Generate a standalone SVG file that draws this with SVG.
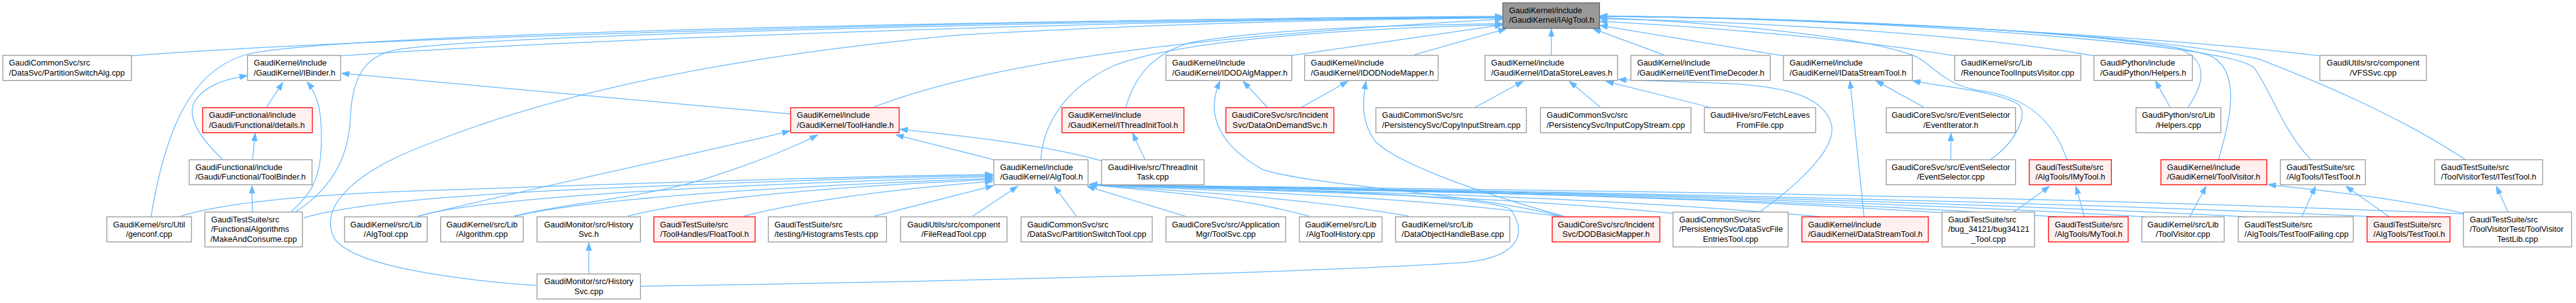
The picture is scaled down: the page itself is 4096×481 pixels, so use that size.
<svg xmlns="http://www.w3.org/2000/svg" width="4096" height="481" viewBox="0 0 4096 481">
<defs>
<marker id="a" markerWidth="15" markerHeight="11" refX="14" refY="5.5" orient="auto" markerUnits="userSpaceOnUse"><path d="M0,0.5 L14,5.5 L0,10.5 z" fill="#63b8ff" stroke="#63b8ff" stroke-width="1"/></marker>
</defs>
<style>
.e path{fill:none;stroke:#63b8ff;stroke-width:1.4;marker-end:url(#a)}
.n rect{fill:#ffffff;stroke:#999999;stroke-width:1.5}
.r rect{fill:#fff0f0;stroke:#ff0000;stroke-width:1.5}
.g rect{fill:#999999;stroke:#666666;stroke-width:1.5}
text{font-family:"Liberation Sans",Arial,sans-serif;font-size:14.4px;fill:#000000}
text.c{text-anchor:middle}
</style>
<rect x="0" y="0" width="4096" height="481" fill="#ffffff"/>
<g transform="scale(0.896)">
<g id="edges" class="e">
<path d="M233,99 C700,62 2000,32 2667,29"/>
<path d="M604,99 C1000,70 2000,36 2667,30"/>
<path d="M268,384 C290,250 330,125 440,96 C620,55 2000,33 2667,30"/>
<path d="M525,375 C610,320 620,250 622,205 C626,120 660,95 710,87 C900,60 2000,35 2667,31"/>
<path d="M1550,190 C1720,125 2000,70 2667,34"/>
<path d="M953,506 C800,495 620,470 592,420 C565,360 640,300 760,255 C1000,160 1300,100 1700,62 C2100,40 2400,34 2667,32"/>
<path d="M1847,283 C1852,210 1900,150 1980,115 C2100,70 2400,50 2667,44"/>
<path d="M1998,190 C2015,130 2050,95 2110,76 C2250,50 2500,44 2667,42"/>
<path d="M2288,99 L2667,44"/>
<path d="M2510,97 L2673,51"/>
<path d="M2753,98 L2753,51"/>
<path d="M2955,98 L2827,51"/>
<path d="M3165,99 L2839,45"/>
<path d="M3469,99 C3300,70 3000,45 2839,38"/>
<path d="M3716,99 C3500,60 3100,38 2839,33"/>
<path d="M4117,99 C3800,60 3200,32 2839,28"/>
<path d="M3883,190 C3910,150 3925,105 3860,84 C3600,45 3100,30 2839,29"/>
<path d="M3937,283 C3955,220 3980,130 3925,100 C3800,55 3200,32 2839,29"/>
<path d="M4101,283 C4050,230 4030,160 4000,120 C3950,75 3300,32 2839,29"/>
<path d="M4375,283 C4250,200 4100,140 4010,105 C3800,55 3200,32 2839,29"/>
<path d="M3668,283 C3640,200 3580,168 3510,160 C3450,150 3430,115 3400,100 C3300,60 3000,38 2839,31"/>
<path d="M3122,376 C3200,320 3260,260 3250,220 C3235,165 3150,150 3040,147 C2950,144 2900,142 2872,141"/>
<path d="M3034,190 L2850,144"/>
<path d="M2618,190 L2703,144"/>
<path d="M2840,190 L2785,144"/>
<path d="M2249,190 L2206,144"/>
<path d="M2310,190 L2392,144"/>
<path d="M2770,383 C2600,340 2330,330 2240,300 C2160,255 2140,200 2165,144"/>
<path d="M2775,383 C2620,340 2480,290 2440,250 C2415,215 2418,180 2424,144"/>
<path d="M2032,283 L2010,236"/>
<path d="M1955,285 C1850,255 1700,240 1597,229"/>
<path d="M1764,283 L1590,239"/>
<path d="M742,383 C1000,320 1250,270 1402,232"/>
<path d="M912,383 C1000,360 1150,350 1260,314 C1350,285 1410,260 1451,239"/>
<path d="M1403,202 L606,130"/>
<path d="M473,190 L502,146"/>
<path d="M396,283 C360,250 330,210 345,180 C365,150 400,140 439,134"/>
<path d="M448,283 L453,236"/>
<path d="M448,376 L447,329"/>
<path d="M517,375 C550,345 568,320 570,260 C572,200 565,170 545,145"/>
<path d="M1045,485 L1045,430"/>
<path d="M321,383 C380,365 500,345 780,337 C1200,322 1500,313 1762,309"/>
<path d="M539,386 C620,362 780,348 1000,337 C1300,323 1550,315 1762,311"/>
<path d="M742,383 C850,352 1200,330 1762,313"/>
<path d="M914,383 C1050,350 1400,330 1762,316"/>
<path d="M1114,383 C1250,348 1500,330 1762,318"/>
<path d="M1320,383 C1440,352 1600,334 1762,321"/>
<path d="M1552,383 L1763,329"/>
<path d="M1726,383 L1806,330"/>
<path d="M1910,383 L1871,330"/>
<path d="M2103,383 L1929,330"/>
<path d="M2323,383 C2186,345 2030,338 1933,327"/>
<path d="M2500,383 C2301,348 2075,338 1933,327"/>
<path d="M2766,383 C2474,345 2141,338 1933,327"/>
<path d="M2969,378 C2606,343 2192,337 1933,327"/>
<path d="M3231,384 C2777,343 2257,337 1933,327"/>
<path d="M3446,377 C2916,342 2311,336 1933,327"/>
<path d="M3650,384 C3049,345 2362,336 1933,327"/>
<path d="M3806,384 C3150,346 2401,336 1933,327"/>
<path d="M3985,384 C3267,347 2446,336 1933,327"/>
<path d="M4214,384 C3416,348 2503,336 1933,327"/>
<path d="M4372,379 C3518,342 2543,335 1933,327"/>
<path d="M1137,507 C1600,500 2300,485 2600,465 C2700,455 2710,410 2680,370 C2600,340 2200,335 1933,327"/>
<path d="M3308,384 L3283,143"/>
<path d="M3414,190 L3329,143"/>
<path d="M3462,283 L3462,236"/>
<path d="M3532,283 C3580,250 3600,200 3582,185 C3540,160 3450,155 3394,143"/>
<path d="M3573,376 L3637,330"/>
<path d="M3699,384 L3684,330"/>
<path d="M3886,384 L3915,330"/>
<path d="M4085,384 L4109,330"/>
<path d="M4240,384 L4163,330"/>
<path d="M4372,378 C4250,350 4100,335 4025,327"/>
<path d="M4451,376 L4430,330"/>
<path d="M3851,190 L3825,143"/>
</g>
<g id="n0" class="g"><rect x="2667" y="5" width="171.6" height="45.2"/><text x="2678" y="23.5">GaudiKernel/include</text><text x="2678" y="40.5">/GaudiKernel/IAlgTool.h</text></g>
<g id="n1" class="n"><rect x="5" y="98.1" width="228.3" height="44.4"/><text x="16" y="116.6">GaudiCommonSvc/src</text><text x="16" y="133.6">/DataSvc/PartitionSwitchAlg.cpp</text></g>
<g id="n2" class="n"><rect x="439.2" y="98.1" width="165.2" height="44.4"/><text x="450.2" y="116.6">GaudiKernel/include</text><text x="450.2" y="133.6">/GaudiKernel/IBinder.h</text></g>
<g id="n3" class="r"><rect x="359.7" y="190.7" width="194.5" height="44.4"/><text x="370.7" y="209.2">GaudiFunctional/include</text><text x="370.7" y="226.2">/Gaudi/Functional/details.h</text></g>
<g id="n4" class="n"><rect x="335.8" y="283" width="217.9" height="44.4"/><text x="346.8" y="301.5">GaudiFunctional/include</text><text x="346.8" y="318.5">/Gaudi/Functional/ToolBinder.h</text></g>
<g id="n5" class="n"><rect x="189.5" y="384.2" width="150.3" height="44.4"/><text class="c" x="264.6" y="402.7">GaudiKernel/src/Util</text><text class="c" x="264.6" y="419.7">/genconf.cpp</text></g>
<g id="n6" class="n"><rect x="363.6" y="375.7" width="173.1" height="61.8"/><text x="374.6" y="394.2">GaudiTestSuite/src</text><text x="374.6" y="411.2">/FunctionalAlgorithms</text><text class="c" x="450.1" y="428.2">/MakeAndConsume.cpp</text></g>
<g id="n7" class="n"><rect x="611.4" y="384.2" width="146.7" height="44.4"/><text class="c" x="684.7" y="402.7">GaudiKernel/src/Lib</text><text class="c" x="684.7" y="419.7">/AlgTool.cpp</text></g>
<g id="n8" class="n"><rect x="781.9" y="384.2" width="146.7" height="44.4"/><text class="c" x="855.2" y="402.7">GaudiKernel/src/Lib</text><text class="c" x="855.2" y="419.7">/Algorithm.cpp</text></g>
<g id="n9" class="n"><rect x="953" y="384.2" width="183.6" height="44.4"/><text class="c" x="1044.8" y="402.7">GaudiMonitor/src/History</text><text class="c" x="1044.8" y="419.7">Svc.h</text></g>
<g id="n10" class="r"><rect x="1160.4" y="384.2" width="179.6" height="44.4"/><text x="1171.4" y="402.7">GaudiTestSuite/src</text><text x="1171.4" y="419.7">/ToolHandles/FloatTool.h</text></g>
<g id="n11" class="n"><rect x="1363.4" y="384.2" width="209.8" height="44.4"/><text x="1374.4" y="402.7">GaudiTestSuite/src</text><text x="1374.4" y="419.7">/testing/HistogramsTests.cpp</text></g>
<g id="n12" class="n"><rect x="953" y="485.4" width="183.6" height="44.4"/><text class="c" x="1044.8" y="503.9">GaudiMonitor/src/History</text><text class="c" x="1044.8" y="520.9">Svc.cpp</text></g>
<g id="n13" class="r"><rect x="1403.2" y="190.7" width="192.4" height="44.4"/><text x="1414.2" y="209.2">GaudiKernel/include</text><text x="1414.2" y="226.2">/GaudiKernel/ToolHandle.h</text></g>
<g id="n14" class="n"><rect x="1598.1" y="384.2" width="189" height="44.4"/><text class="c" x="1692.6" y="402.7">GaudiUtils/src/component</text><text class="c" x="1692.6" y="419.7">/FileReadTool.cpp</text></g>
<g id="n15" class="n"><rect x="1812" y="384.2" width="232.8" height="44.4"/><text x="1823" y="402.7">GaudiCommonSvc/src</text><text x="1823" y="419.7">/DataSvc/PartitionSwitchTool.cpp</text></g>
<g id="n16" class="n"><rect x="2069.2" y="384.2" width="212.4" height="44.4"/><text class="c" x="2175.4" y="402.7">GaudiCoreSvc/src/Application</text><text class="c" x="2175.4" y="419.7">Mgr/ToolSvc.cpp</text></g>
<g id="n17" class="n"><rect x="1763.7" y="283" width="167.2" height="44.4"/><text x="1774.7" y="301.5">GaudiKernel/include</text><text x="1774.7" y="318.5">/GaudiKernel/AlgTool.h</text></g>
<g id="n18" class="n"><rect x="1954.8" y="283" width="182" height="44.4"/><text class="c" x="2045.8" y="301.5">GaudiHive/src/ThreadInit</text><text class="c" x="2045.8" y="318.5">Task.cpp</text></g>
<g id="n19" class="r"><rect x="1884.6" y="190.7" width="216.4" height="44.4"/><text x="1895.6" y="209.2">GaudiKernel/include</text><text x="1895.6" y="226.2">/GaudiKernel/IThreadInitTool.h</text></g>
<g id="n20" class="n"><rect x="2069.2" y="98.1" width="223.3" height="44.4"/><text x="2080.2" y="116.6">GaudiKernel/include</text><text x="2080.2" y="133.6">/GaudiKernel/IDODAlgMapper.h</text></g>
<g id="n21" class="r"><rect x="2175.6" y="190.7" width="191.5" height="44.4"/><text class="c" x="2271.3" y="209.2">GaudiCoreSvc/src/Incident</text><text class="c" x="2271.3" y="226.2">Svc/DataOnDemandSvc.h</text></g>
<g id="n22" class="n"><rect x="2315.3" y="98.1" width="236.8" height="44.4"/><text x="2326.3" y="116.6">GaudiKernel/include</text><text x="2326.3" y="133.6">/GaudiKernel/IDODNodeMapper.h</text></g>
<g id="n23" class="n"><rect x="2635.2" y="98.1" width="235.3" height="44.4"/><text x="2646.2" y="116.6">GaudiKernel/include</text><text x="2646.2" y="133.6">/GaudiKernel/IDataStoreLeaves.h</text></g>
<g id="n24" class="n"><rect x="2894.3" y="98.1" width="247.2" height="44.4"/><text x="2905.3" y="116.6">GaudiKernel/include</text><text x="2905.3" y="133.6">/GaudiKernel/IEventTimeDecoder.h</text></g>
<g id="n25" class="n"><rect x="2441.7" y="190.7" width="267.1" height="44.4"/><text x="2452.7" y="209.2">GaudiCommonSvc/src</text><text x="2452.7" y="226.2">/PersistencySvc/CopyInputStream.cpp</text></g>
<g id="n26" class="n"><rect x="2733.7" y="190.7" width="267.1" height="44.4"/><text x="2744.7" y="209.2">GaudiCommonSvc/src</text><text x="2744.7" y="226.2">/PersistencySvc/InputCopyStream.cpp</text></g>
<g id="n27" class="n"><rect x="3024.7" y="190.7" width="197.4" height="44.4"/><text class="c" x="3123.4" y="209.2">GaudiHive/src/FetchLeaves</text><text class="c" x="3123.4" y="226.2">FromFile.cpp</text></g>
<g id="n28" class="n"><rect x="2305.9" y="384.2" width="146.7" height="44.4"/><text class="c" x="2379.2" y="402.7">GaudiKernel/src/Lib</text><text class="c" x="2379.2" y="419.7">/AlgToolHistory.cpp</text></g>
<g id="n29" class="n"><rect x="2476.5" y="384.2" width="202.9" height="44.4"/><text x="2487.5" y="402.7">GaudiKernel/src/Lib</text><text x="2487.5" y="419.7">/DataObjectHandleBase.cpp</text></g>
<g id="n30" class="r"><rect x="2754.6" y="384.2" width="191" height="44.4"/><text class="c" x="2850.1" y="402.7">GaudiCoreSvc/src/Incident</text><text class="c" x="2850.1" y="419.7">Svc/DODBasicMapper.h</text></g>
<g id="n31" class="n"><rect x="2969" y="375.7" width="204.3" height="61.8"/><text x="2980" y="394.2">GaudiCommonSvc/src</text><text x="2980" y="411.2">/PersistencySvc/DataSvcFile</text><text class="c" x="3071.1" y="428.2">EntriesTool.cpp</text></g>
<g id="n32" class="n"><rect x="3164.9" y="98.1" width="228.8" height="44.4"/><text x="3175.9" y="116.6">GaudiKernel/include</text><text x="3175.9" y="133.6">/GaudiKernel/IDataStreamTool.h</text></g>
<g id="n33" class="n"><rect x="3468.8" y="98.1" width="223.8" height="44.4"/><text x="3479.8" y="116.6">GaudiKernel/src/Lib</text><text x="3479.8" y="133.6">/RenounceToolInputsVisitor.cpp</text></g>
<g id="n34" class="n"><rect x="3716" y="98.1" width="174.7" height="44.4"/><text x="3727" y="116.6">GaudiPython/include</text><text x="3727" y="133.6">/GaudiPython/Helpers.h</text></g>
<g id="n35" class="n"><rect x="3347.4" y="190.7" width="229.3" height="44.4"/><text class="c" x="3462" y="209.2">GaudiCoreSvc/src/EventSelector</text><text class="c" x="3462" y="226.2">/EventIterator.h</text></g>
<g id="n36" class="n"><rect x="3347.4" y="283" width="229.3" height="44.4"/><text class="c" x="3462" y="301.5">GaudiCoreSvc/src/EventSelector</text><text class="c" x="3462" y="318.5">/EventSelector.cpp</text></g>
<g id="n37" class="r"><rect x="3601.1" y="283" width="145.8" height="44.4"/><text x="3612.1" y="301.5">GaudiTestSuite/src</text><text x="3612.1" y="318.5">/AlgTools/IMyTool.h</text></g>
<g id="n38" class="r"><rect x="3197.7" y="384.2" width="224.3" height="44.4"/><text x="3208.7" y="402.7">GaudiKernel/include</text><text x="3208.7" y="419.7">/GaudiKernel/DataStreamTool.h</text></g>
<g id="n39" class="n"><rect x="3446.4" y="375.7" width="164.2" height="61.8"/><text x="3457.4" y="394.2">GaudiTestSuite/src</text><text x="3457.4" y="411.2">/bug_34121/bug34121</text><text class="c" x="3528.5" y="428.2">_Tool.cpp</text></g>
<g id="n40" class="r"><rect x="3635.4" y="384.2" width="141.3" height="44.4"/><text x="3646.4" y="402.7">GaudiTestSuite/src</text><text x="3646.4" y="419.7">/AlgTools/MyTool.h</text></g>
<g id="n41" class="n"><rect x="3790.6" y="190.7" width="150.6" height="44.4"/><text class="c" x="3865.9" y="209.2">GaudiPython/src/Lib</text><text class="c" x="3865.9" y="226.2">/Helpers.cpp</text></g>
<g id="n42" class="n"><rect x="3801" y="384.2" width="146.1" height="44.4"/><text class="c" x="3874" y="402.7">GaudiKernel/src/Lib</text><text class="c" x="3874" y="419.7">/ToolVisitor.cpp</text></g>
<g id="n43" class="n"><rect x="4116.8" y="98.1" width="189.3" height="44.4"/><text class="c" x="4211.4" y="116.6">GaudiUtils/src/component</text><text class="c" x="4211.4" y="133.6">/VFSSvc.cpp</text></g>
<g id="n44" class="r"><rect x="3834.8" y="283" width="187.9" height="44.4"/><text x="3845.8" y="301.5">GaudiKernel/include</text><text x="3845.8" y="318.5">/GaudiKernel/ToolVisitor.h</text></g>
<g id="n45" class="n"><rect x="4046.7" y="283" width="151" height="44.4"/><text x="4057.7" y="301.5">GaudiTestSuite/src</text><text x="4057.7" y="318.5">/AlgTools/ITestTool.h</text></g>
<g id="n46" class="n"><rect x="4320.8" y="283" width="191.3" height="44.4"/><text x="4331.8" y="301.5">GaudiTestSuite/src</text><text x="4331.8" y="318.5">/ToolVisitorTest/ITestTool.h</text></g>
<g id="n47" class="n"><rect x="3972.1" y="384.2" width="204.1" height="44.4"/><text x="3983.1" y="402.7">GaudiTestSuite/src</text><text x="3983.1" y="419.7">/AlgTools/TestToolFailing.cpp</text></g>
<g id="n48" class="r"><rect x="4200.7" y="384.2" width="147.1" height="44.4"/><text x="4211.7" y="402.7">GaudiTestSuite/src</text><text x="4211.7" y="419.7">/AlgTools/TestTool.h</text></g>
<g id="n49" class="n"><rect x="4371.8" y="375.7" width="191.8" height="61.8"/><text x="4382.8" y="394.2">GaudiTestSuite/src</text><text x="4382.8" y="411.2">/ToolVisitorTest/ToolVisitor</text><text class="c" x="4467.7" y="428.2">TestLib.cpp</text></g>
</g>
</svg>
